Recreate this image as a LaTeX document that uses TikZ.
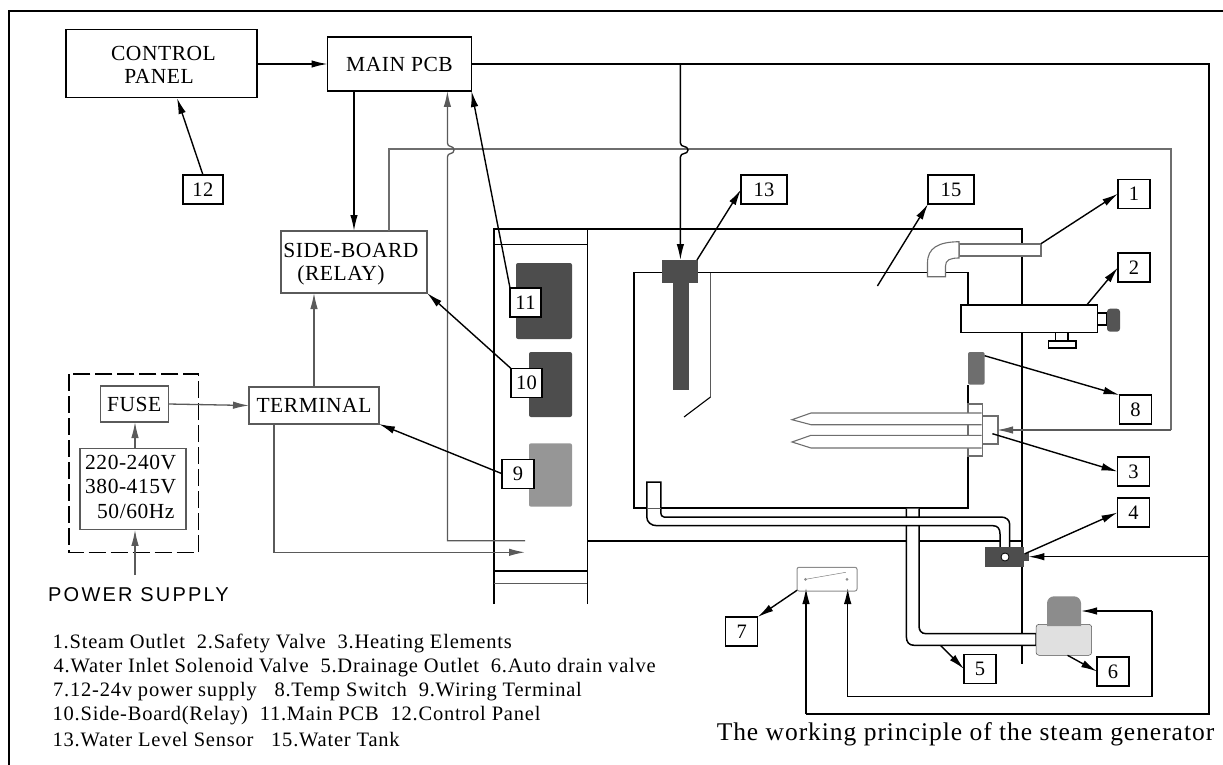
\documentclass[tikz,border=0pt]{standalone}
\usepackage{fontspec}
\usepackage{tikz}
\usetikzlibrary{arrows.meta}
\setmainfont[LetterSpace=3.8]{Liberation Serif}
\newfontfamily\blockfont[LetterSpace=2.5]{Liberation Serif}
\newfontfamily\labelsans[LetterSpace=11]{Liberation Sans}
\definecolor{wire}{HTML}{5A5A5A}
\definecolor{lightwire}{HTML}{6E6E6E}
\definecolor{darkpart}{HTML}{4D4D4D}
\tikzset{
    tip/.style={-{Latex[length=16pt,width=7.5pt]}},
    arr/.style={tip,line width=1.4pt,black},
    grayarr/.style={tip,line width=1.3pt,wire},
    block/.style={draw,line width=1.3pt,fill=white,inner sep=0pt,outer sep=0pt,align=center,font=\blockfont\fontsize{21.5}{24}\selectfont},
    numbox/.style={draw,line width=1.3pt,fill=white,inner sep=0pt,outer sep=0pt,minimum height=29pt,font=\blockfont\fontsize{20.5}{20}\selectfont},
    txt/.style={inner sep=0pt,font=\blockfont\fontsize{21.5}{24}\selectfont},
    legend/.style={inner sep=0pt,anchor=west,font=\fontsize{20.5}{24}\selectfont},
    pipe/.style={draw=lightwire,line width=1.1pt,fill=white},
    blackpipe/.style={draw=black,line width=1.5pt,fill=white}
}
\begin{document}
\begin{tikzpicture}[x=1pt,y=-1pt]
    \useasboundingbox (0,0) rectangle (1223,765);

    % Frame
    \draw[line width=2pt] (9,765) -- (9,11) -- (1223,11);

    % Cabinet
    \draw[line width=1.2pt] (494,604) -- (494,229) -- (1022,229) -- (1022,664);
    \draw[line width=1.2pt] (587.4,604) -- (587.4,229);
    \draw[line width=1.2pt] (494,244.5) -- (587.4,244.5);
    \draw[line width=1.5pt] (494,571) -- (587.4,571);
    \draw[line width=1pt,wire] (494,583) -- (587.4,583);
    \draw[line width=1.2pt] (587.4,541) -- (1022,541);

    % Parts in the column
    \fill[darkpart,rounded corners=2pt] (516,263) rectangle (572,339);
    \fill[darkpart,rounded corners=2pt] (529,352) rectangle (572,417);
    \fill[black!41,rounded corners=2pt] (529,443.3) rectangle (572,506.7);

    % Blocks
    \node[block,minimum width=191pt,minimum height=68pt] (panel) at (161.5,63.5) {};
    \node[txt] (panelA) at (163.5,53) {CONTROL};
    \node[txt] (panelB) at (159,76) {PANEL};
    \node[block,minimum width=144pt,minimum height=54pt] (mainpcb) at (399.5,64) {MAIN PCB};
    \node[block,draw=wire,minimum width=146pt,minimum height=62pt] (side) at (354,262) {};
    \node[txt] (sideA) at (351,250) {SIDE-BOARD};
    \node[txt] (sideB) at (341,275) {(RELAY)};
    \node[block,draw=wire,minimum width=130pt,minimum height=37pt] (term) at (314,405.5) {TERMINAL};
    \node[block,draw=wire,minimum width=68pt,minimum height=36pt] (fuse) at (134.2,404) {FUSE};
    \node[block,draw=wire,minimum width=106pt,minimum height=81pt] (volt) at (132.9,489.3) {};
    \node[txt,anchor=west] (voltA) at (85,463) {220-240V};
    \node[txt,anchor=west] (voltB) at (85,487) {380-415V};
    \node[txt,anchor=west] (voltC) at (97,511) {50/60Hz};
    \draw[line width=1.5pt,dash pattern=on 17pt off 5pt] (69,374) rectangle (198.4,552.3);
    \node[inner sep=0pt,font=\labelsans\fontsize{20}{24}\selectfont] (supply) at (138.5,595) {POWER SUPPLY};

    % Wires
    \coordinate (hopS) at (447.4,157);
    \coordinate (hopD) at (680.4,157);
    \draw[arr] (panel.east |- mainpcb) -- (mainpcb.west);
    \draw[arr,line width=1.6pt] (mainpcb.south -| 354,0) -- (side.north -| 354,0);
    \draw[grayarr] (fuse.east) -- (term.west);
    \draw[grayarr] (term.north) -- (term.north |- side.south);
    \draw[grayarr] (volt.north -| 135,0) -- (fuse.south -| 135,0);
    \draw[grayarr] (135,575) -- (volt.south -| 135,0);
    \draw[lightwire,line width=1.1pt] (side.north -| 389,0) -- (389,149) -- (1171,149) -- (1171,430);
    \draw[grayarr] (1171,430) -- (997,430);
    \draw[grayarr] (525,540.7) -- (447.4,540.7) -- (hopS)
        .. controls (447.4,152) and (454,155) .. (454,150)
        .. controls (454,145) and (447.4,148) .. (447.4,143) -- (mainpcb.south -| 447.4,0);
    \draw[grayarr] (term.south -| 274,0) -- (274,552.3) -- (525,552.3);

    % Main PCB wires
    \draw[line width=1.2pt] (mainpcb.east) -- (1209,64) -- (1209,714) -- (806,714);
    \draw[arr] (806,714) -- (806,588);
    \draw[arr] (1209,556.7) -- (1028.4,556.7);
    \draw[arr] (680.4,64) -- (680.4,143)
        .. controls (680.4,148) and (688,145) .. (688,150)
        .. controls (688,155) and (680.4,152) .. (hopD) -- (680.4,260);
    \draw[arr] (1152,611) -- (1081,611);
    \draw[arr] (1152,611) -- (1152,696.3) -- (847.7,696.3) -- (847.7,588);

    % Water tank
    \draw[line width=1.2pt] (968,385) -- (968,508) -- (634,508) -- (634,272.7) -- (968,272.7) -- (968,305);
    \draw[wire,line width=1.1pt] (710.5,272.7) -- (710.5,397);
    \draw[line width=1.1pt] (710.5,397) -- (684,417);

    % Level sensor
    \fill[darkpart] (662,260) rectangle (698,283);
    \fill[darkpart] (673,283) rectangle (688.6,390);

    % Steam outlet
    \draw[pipe] (959,244) rectangle (1041,256);
    \draw[pipe] (959,241.7) .. controls (938,242) and (927.5,248) .. (927.5,263) -- (927.5,276.7)
        -- (945.5,276.7) -- (945.5,266) .. controls (945.5,260) and (950,258) .. (959,258) -- cycle;

    % Safety valve
    \draw[line width=1.2pt,fill=white] (1097.6,313) rectangle (1107,325);
    \fill[black!67,rounded corners=3pt] (1107,308.7) rectangle (1120,331.7);
    \draw[line width=1.2pt,fill=white] (1055.7,330.7) rectangle (1068,341);
    \draw[line width=1.2pt,fill=white] (1048.7,341) rectangle (1076,348);
    \draw[line width=1.2pt,fill=white] (961,305) rectangle (1097.6,332.7);

    % Temp switch
    \fill[black!57,rounded corners=2pt] (968,352) rectangle (984.6,384.7);

    % Heating elements
    \draw[pipe] (968,404) rectangle (982.6,456);
    \draw[pipe] (982.6,416) rectangle (998,444);
    \draw[pipe] (981.5,413) -- (811,413) -- (792,419.7) -- (811,424.7) -- (981.5,424.7);
    \draw[pipe] (981.5,435.3) -- (811,435.3) -- (792,442) -- (811,448) -- (981.5,448);

    % Drain pipe and water pipe
    \draw[blackpipe] (906.4,508.7) -- (906.4,637) .. controls (906.4,642) and (909,645.3) .. (914,645.3)
        -- (1036,645.3) -- (1036,633.7) -- (926,633.7) .. controls (921,633.7) and (919,630) .. (919,626)
        -- (919,508.7);
    \draw[blackpipe] (646.8,482) -- (646.8,517) .. controls (646.8,522) and (651,525.7) .. (657,525.7)
        -- (993,525.7) .. controls (998,525.7) and (1000,529) .. (1000,534) -- (1000,556)
        -- (1009.6,556) -- (1009.6,524) .. controls (1009.6,520) and (1006,517) .. (1001,517)
        -- (664,517) .. controls (662,517) and (660.8,515) .. (660.8,513) -- (660.8,482) -- cycle;
    \draw[wire,line width=0.8pt] (646.8,508) -- (660.8,508);

    % Solenoid valve
    \fill[darkpart] (984.6,547) rectangle (1023.7,567);
    \fill[darkpart] (1023.7,552.7) rectangle (1028.7,561.3);
    \draw[black,line width=0.8pt,fill=white] (1005,557) circle (4pt);

    % Drain valve
    \draw[draw=black!70,fill=black!12,rounded corners=3pt,line width=0.5pt] (1036,624.3) rectangle (1091.7,655.3);
    \fill[black!45,rounded corners=7pt] (1047,626) [sharp corners] -- (1047,610) [rounded corners=7pt] -- (1047,596.3) -- (1081,596.3) -- (1081,610) [sharp corners] -- (1081,626) -- cycle;

    % 12-24v supply
    \draw[black!45,rounded corners=2pt,line width=1pt] (797,567.3) rectangle (857,591);
    \draw[black!50,line width=0.5pt] (805.5,579.3) -- (845.8,572.3);
    \fill[black!45] (805.5,579.3) circle (1.5pt);
    \fill[black!45] (847,579.3) circle (1.5pt);

    % Number boxes
    \foreach \n/\cx/\cy/\w in {1/1134/193.7/32,2/1134/267.5/32,3/1133.5/471.5/32,4/1133.5/512.5/32,
        5/980/669/32,6/1113/671.5/32,7/741.7/631.5/32,8/1135.5/409.5/32,9/518/473.7/32,
        10/526.5/383/31,11/525.5/302.5/31,12/203/189.5/40,13/764/189.5/46,15/951/189.5/46} {
        \node[numbox,minimum width=\w pt] (n\n) at (\cx,\cy) {\n};
    }

    % Leaders
    \coordinate (tip15) at (877.4,286);
    \draw[arr] (n1.west -| 1041,0) ++(0,50) -- (n1.west);
    \draw[arr] (1087,304.7) -- (n2.west);
    \draw[arr] (992.4,433.7) -- (n3.west);
    \draw[arr] (1025,553.7) -- (n4.west);
    \draw[arr] (940.4,645.3) -- (n5.west);
    \draw[arr] (1067.5,655.3) -- (n6.west);
    \draw[arr] (797,590.3) -- (n7.north east);
    \draw[arr] (984.6,355.7) -- (n8.north west);
    \draw[arr] (n9.west) -- (term.south east);
    \draw[arr] (n10.north west) -- (side.south east);
    \draw[arr] (n11.north west) -- (mainpcb.south east);
    \draw[arr] (n12.north) -- (177,98);
    \draw[arr] (697,260) -- (n13.west);
    \draw[arr] (tip15) -- (n15.south west);

    % Legend
    \node[legend] (legA) at (52.5,643.7) {1.Steam Outlet\ \ 2.Safety Valve\ \ 3.Heating Elements};
    \node[legend] (legB) at (53.5,667.7) {4.Water Inlet Solenoid Valve\ \ 5.Drainage Outlet\ \ 6.Auto drain valve};
    \node[legend] (legC) at (53,691.7) {7.12-24v power supply\ \ \ 8.Temp Switch\ \ 9.Wiring Terminal};
    \node[legend] (legD) at (52.5,715.3) {10.Side-Board(Relay)\ \ 11.Main PCB\ \ 12.Control Panel};
    \node[legend] (legE) at (52.5,739.3) {13.Water Level Sensor\ \ \ 15.Water Tank};
    \node[inner sep=0pt,font=\fontsize{25.5}{28}\selectfont] (title) at (965.5,734.7) {The working principle of the steam generator};
\end{tikzpicture}
\end{document}
